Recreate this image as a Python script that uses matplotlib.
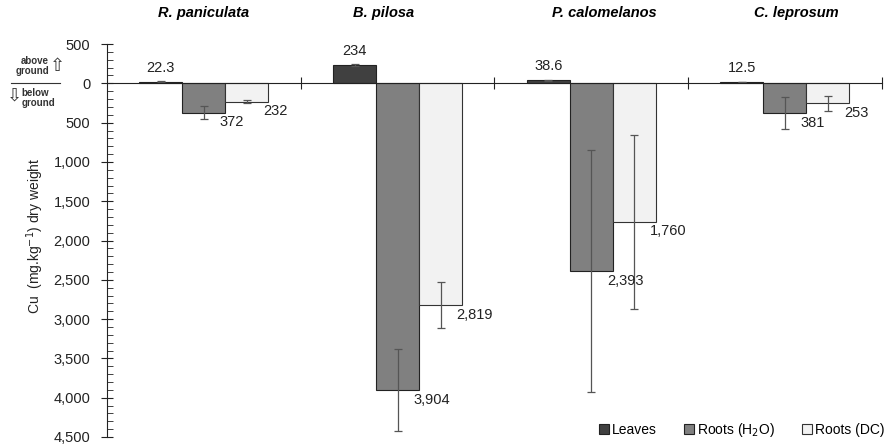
import matplotlib.pyplot as plt
from matplotlib.ticker import FuncFormatter, MultipleLocator
import numpy as np

plt.rcParams['font.family'] = ['Liberation Sans', 'DejaVu Sans']

species = ['R. paniculata', 'B. pilosa', 'P. calomelanos', 'C. leprosum']
leaves = [22.3, 234, 38.6, 12.5]
leaves_err = [3, 8, 6, 1]
roots_h2o = [372, 3904, 2393, 381]
roots_h2o_err = [85, 520, 1540, 205]
roots_dc = [232, 2819, 1760, 253]
roots_dc_err = [20, 295, 1105, 95]
leaves_lbl = ['22.3', '234', '38.6', '12.5']
h2o_lbl = ['372', '3,904', '2,393', '381']
dc_lbl = ['232', '2,819', '1,760', '253']

fig = plt.figure(figsize=(8.88, 4.45), dpi=100)
ax = fig.add_axes([0.1205, 0.018, 0.8725, 0.883])

x = np.arange(len(species))
w = 0.222
ekw = dict(ecolor='#555555', elinewidth=0.9, capsize=3, capthick=0.9)

ax.bar(x - w, leaves, w, yerr=leaves_err, color='#404040', edgecolor='#222222',
       linewidth=0.8, error_kw=ekw, label='Leaves')
ax.bar(x, -np.array(roots_h2o), w, yerr=roots_h2o_err, color='#808080', edgecolor='#222222',
       linewidth=0.8, error_kw=ekw, label='Roots (H$_2$O)')
ax.bar(x + w, -np.array(roots_dc), w, yerr=roots_dc_err, color='#f2f2f2', edgecolor='#333333',
       linewidth=0.8, error_kw=ekw, label='Roots (DC)')

for i in range(len(species)):
    ax.annotate(leaves_lbl[i], (x[i] - w, leaves[i]), xytext=(0, 5), textcoords='offset points',
                ha='center', va='bottom', fontsize=10.5, color='#222222')
    ax.annotate(h2o_lbl[i], (x[i] + w / 2, -roots_h2o[i]), xytext=(-4, -2), textcoords='offset points',
                ha='left', va='top', fontsize=10.5, color='#222222')
    ax.annotate(dc_lbl[i], (x[i] + 1.5 * w, -roots_dc[i]), xytext=(-4, -2), textcoords='offset points',
                ha='left', va='top', fontsize=10.5, color='#222222')

# species titles
title_x = [0.0, 0.93, 2.07, 3.06]
for tx, name in zip(title_x, species):
    ax.text(tx, 1.08, name, transform=ax.get_xaxis_transform(), ha='center', va='center',
            fontsize=10.5, fontweight='bold', fontstyle='italic',
            family=['Liberation Sans Narrow', 'Liberation Sans', 'DejaVu Sans'])

ax.set_xlim(-0.5, 3.5)
ax.set_ylim(-4500, 500)
ax.spines['top'].set_visible(False)
ax.spines['right'].set_visible(False)
ax.spines['bottom'].set_position(('data', 0))
ax.spines['bottom'].set_color('#222222')
ax.spines['left'].set_color('#222222')
ax.set_xticks([0.5, 1.5, 2.5, 3.5])
ax.set_xticklabels([])
ax.tick_params(axis='x', direction='inout', length=9, color='#222222')
ax.yaxis.set_major_locator(MultipleLocator(500))
ax.yaxis.set_minor_locator(MultipleLocator(100))
ax.yaxis.set_major_formatter(FuncFormatter(lambda v, p: f'{abs(v):,.0f}'))
ax.tick_params(axis='y', which='major', direction='inout', length=8, labelsize=10.5, pad=8,
               color='#222222', labelcolor='#222222')
ax.tick_params(axis='y', which='minor', direction='in', length=4, color='#222222')

fig.text(0.04, 0.47, 'Cu  (mg.kg$^{-1}$) dry weight', rotation=90, ha='center', va='center',
         fontsize=10, color='#222222')

# above/below ground marker
fig.text(0.055, 0.852, 'above\nground', ha='right', va='center', fontsize=7, color='#333333',
         fontweight='bold', linespacing=1.05)
fig.text(0.065, 0.852, '\u21e7', ha='center', va='center', fontsize=13, color='#333333',
         family='DejaVu Sans')
fig.text(0.016, 0.785, '\u21e9', ha='center', va='center', fontsize=13, color='#333333',
         family='DejaVu Sans')
fig.text(0.024, 0.78, 'below\nground', ha='left', va='center', fontsize=7, color='#333333',
         fontweight='bold', linespacing=1.05)
fig.add_artist(plt.Line2D([0.012, 0.068], [0.813, 0.813], color='#333333', lw=0.8))

handles, labels = ax.get_legend_handles_labels()
fig.legend(handles, labels, loc='lower right', bbox_to_anchor=(1.01, -0.015), ncol=3, frameon=False,
           fontsize=10, handlelength=0.7, handleheight=0.7, handletextpad=0.2, columnspacing=2.0)

fig.savefig('out.png', dpi=100)
